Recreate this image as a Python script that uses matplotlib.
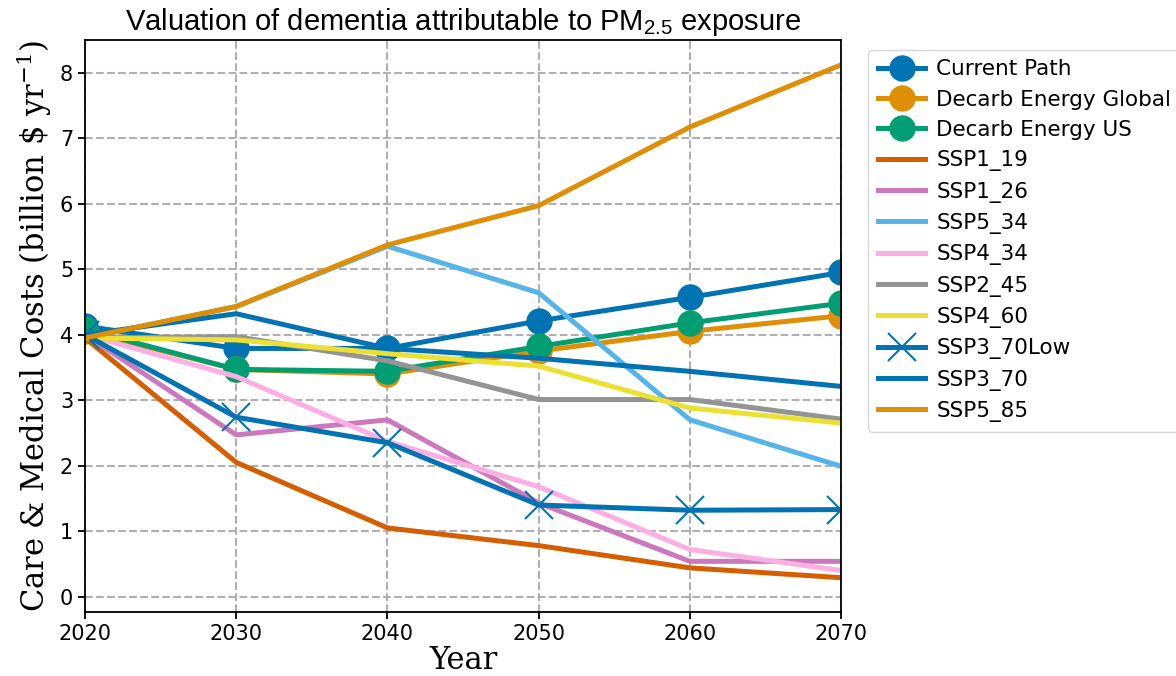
import matplotlib.pyplot as plt
import numpy as np

plt.rcParams['mathtext.fontset'] = 'custom'
plt.rcParams['mathtext.rm'] = 'Liberation Sans'
plt.rcParams['mathtext.default'] = 'regular'

years = [2020, 2030, 2040, 2050, 2060, 2070]

current_path = [4.13, 3.79, 3.79, 4.21, 4.57, 4.95]
decarb_global = [4.05, 3.47, 3.40, 3.75, 4.05, 4.29]
decarb_us = [4.08, 3.47, 3.44, 3.82, 4.18, 4.48]
ssp1_19 = [3.95, 2.05, 1.05, 0.78, 0.44, 0.29]
ssp1_26 = [4.00, 2.47, 2.70, 1.43, 0.54, 0.54]
ssp5_34 = [3.95, 4.43, 5.35, 4.64, 2.70, 1.99]
ssp4_34 = [4.00, 3.36, 2.37, 1.68, 0.72, 0.40]
ssp2_45 = [3.95, 3.97, 3.60, 3.01, 3.01, 2.71]
ssp4_60 = [3.95, 3.92, 3.71, 3.52, 2.88, 2.65]
ssp3_70low = [4.00, 2.74, 2.35, 1.40, 1.32, 1.33]
ssp3_70 = [4.00, 4.32, 3.79, 3.64, 3.44, 3.21]
ssp5_85 = [3.95, 4.43, 5.37, 5.97, 7.17, 8.12]

fig = plt.figure(figsize=(11.76, 6.76), dpi=100)
ax = fig.add_axes([0.0723, 0.095, 0.643, 0.846])

lw = 3.6
ax.plot(years, current_path, color='#0173b2', lw=lw, marker='o', markersize=18, label='Current Path')
ax.plot(years, decarb_global, color='#de8f05', lw=lw, marker='o', markersize=18, label='Decarb Energy Global')
ax.plot(years, decarb_us, color='#029e73', lw=lw, marker='o', markersize=18, label='Decarb Energy US')
ax.plot(years, ssp1_19, color='#d55e00', lw=lw, label='SSP1_19')
ax.plot(years, ssp1_26, color='#cc78bc', lw=lw, label='SSP1_26')
ax.plot(years, ssp5_34, color='#56b4e9', lw=lw, label='SSP5_34')
ax.plot(years, ssp4_34, color='#fbafe4', lw=lw, label='SSP4_34')
ax.plot(years, ssp2_45, color='#949494', lw=lw, label='SSP2_45')
ax.plot(years, ssp4_60, color='#ece133', lw=lw, label='SSP4_60')
ax.plot(years, ssp3_70low, color='#0173b2', lw=lw, marker='x', markersize=20, markeredgewidth=1.5, label='SSP3_70Low')
ax.plot(years, ssp3_70, color='#0173b2', lw=lw, label='SSP3_70')
ax.plot(years, ssp5_85, color='#de8f05', lw=lw, label='SSP5_85')

ax.set_xlim(2020, 2070)
ax.set_ylim(-0.23, 8.5)
ax.set_xticks(years)
ax.set_yticks(range(0, 9))
ax.tick_params(labelsize=15, width=1.3, length=5)
for s in ax.spines.values():
    s.set_linewidth(1.3)
ax.grid(True, linestyle='--', color='#b0b0b0', linewidth=1.5)

ax.set_title('Valuation of dementia attributable to PM$_{2.5}$ exposure',
             fontname='Liberation Sans', fontsize=21, pad=7)
ax.set_xlabel('Year', fontfamily='DejaVu Serif', fontsize=22, labelpad=1)
ax.set_ylabel('Care & Medical Costs (billion \\$ yr$^{-1}$)', fontfamily='DejaVu Serif', fontsize=22)

ax.legend(loc='upper left', bbox_to_anchor=(1.036, 0.983), fontsize=15.5, borderaxespad=0.,
          handlelength=2.2, handletextpad=0.5, labelspacing=0.48, borderpad=0.45)

plt.savefig('out.png', dpi=100)
